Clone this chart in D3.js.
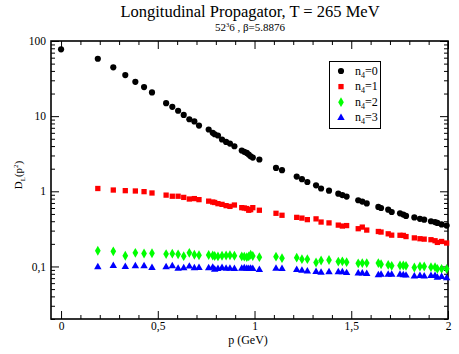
<!DOCTYPE html>
<html>
<head>
<meta charset="utf-8">
<script src="https://cdn.jsdelivr.net/npm/d3@7"></script>
<style>
  body { margin: 0; background: #fff; }
  svg text { font-family: "Liberation Serif", "Times New Roman", "DejaVu Serif", serif; }
</style>
</head>
<body>
<svg id="chart" width="459" height="354"></svg>
<script>
// momenta (GeV), shared by all series
const p = [0, 0.19, 0.27, 0.332, 0.384, 0.429, 0.47, 0.543, 0.575, 0.605,
  0.634, 0.663, 0.689, 0.713, 0.763, 0.784, 0.794, 0.811, 0.832, 0.853,
  0.873, 0.896, 0.934, 0.947, 0.96, 0.97, 0.98, 0.991, 1.025, 1.111,
  1.142, 1.218, 1.245, 1.273, 1.318, 1.344, 1.385, 1.433, 1.454, 1.476,
  1.536, 1.557, 1.58, 1.64, 1.654, 1.691, 1.709, 1.752, 1.769, 1.783,
  1.826, 1.855, 1.877, 1.912, 1.933, 1.945, 1.967, 1.993];

const n0 = [77.5, 58, 44.6, 35.2, 28.6, 24.4, 20.7, 14.9, 13.3, 11.8,
  10.4, 9.1, 8.5, 7.5, 6.65, 6.0, 5.75, 5.53, 4.89, 4.54,
  4.32, 3.98, 3.49, 3.35, 3.24, 3.08, 2.93, 2.81, 2.65, 2.05,
  1.91, 1.57, 1.45, 1.33, 1.20, 1.09, 1.02, 0.93, 0.89, 0.85,
  0.76, 0.73, 0.69, 0.62, 0.60, 0.57, 0.53, 0.51, 0.49, 0.47,
  0.45, 0.43, 0.42, 0.40, 0.39, 0.38, 0.363, 0.35];

const n1 = [null, 1.09, 1.04, 1.02, 1.01, 0.99, 0.95, 0.89, 0.86, 0.86,
  0.83, 0.79, 0.80, 0.775, 0.74, 0.72, 0.71, 0.685, 0.67, 0.645,
  0.63, 0.657, 0.606, 0.60, 0.59, 0.56, 0.57, 0.606, 0.56, 0.51,
  0.48, 0.45, 0.44, 0.42, 0.43, 0.39, 0.38, 0.355, 0.345, 0.35,
  0.318, 0.334, 0.305, 0.292, 0.287, 0.272, 0.261, 0.26, 0.259, 0.25,
  0.24, 0.234, 0.231, 0.227, 0.22, 0.209, 0.215, 0.205];

const n2 = [null, 0.162, 0.159, 0.139, 0.152, 0.149, 0.150, 0.146, 0.148, 0.145,
  0.137, 0.152, 0.143, 0.141, 0.142, 0.14, 0.138, 0.136, 0.139, 0.14,
  0.141, 0.139, 0.136, 0.135, 0.133, 0.136, 0.143, 0.138, 0.133, 0.135,
  0.129, 0.131, 0.125, 0.125, 0.113, 0.12, 0.122, 0.116, 0.117, 0.114,
  0.11, 0.111, 0.111, 0.111, 0.107, 0.105, 0.102, 0.103, 0.103, 0.102,
  0.097, 0.1, 0.1, 0.098, 0.098, 0.093, 0.093, 0.093];

const n3 = [null, 0.098, 0.102, 0.099, 0.101, 0.101, 0.096, 0.098, 0.101, 0.094,
  0.095, 0.1, 0.095, 0.096, 0.095, 0.097, 0.091, 0.093, 0.096, 0.094,
  0.094, 0.093, 0.094, 0.095, 0.094, 0.093, 0.094, 0.093, 0.09, 0.094,
  0.093, 0.09, 0.088, 0.086, 0.085, 0.083, 0.084, 0.084, 0.084, 0.082,
  0.081, 0.081, 0.080, 0.077, 0.078, 0.078, 0.078, 0.078, 0.077, 0.076,
  0.074, 0.075, 0.074, 0.075, 0.075, 0.071, 0.073, 0.070];

const seriesNames = ["0", "1", "2", "3"];
const xMajor = [0, 0.5, 1, 1.5, 2];
const yMajor = [0.1, 1, 10, 100];

const colors = ["#000000", "#ff0000", "#00ff00", "#0000ff"];
const symbols = [d3.symbolCircle, d3.symbolSquare, d3.symbolDiamond, d3.symbolTriangle];
const symSizes = [30, 28, 28, 24];
const serif = "'Liberation Serif', 'Times New Roman', 'DejaVu Serif', serif";

const svg = d3.select("#chart");
const mLeft = 51, mRight = 448, mTop = 41, mBottom = 319;

const x = d3.scaleLinear().domain([-0.052, 2]).range([mLeft, mRight]);
const y = d3.scaleLog().domain([0.02, 100]).range([mBottom, mTop]);

const comma = function (v) { return String(v).replace(".", ","); };

// minor ticks
const xMinor = d3.range(0, 21).map(function (i) { return i / 10; })
  .filter(function (v) { return xMajor.indexOf(v) < 0; });
const yMinor = [];
[0.01, 0.1, 1, 10].forEach(function (dec) {
  for (let k = 2; k <= 9; k++) {
    const v = dec * k;
    if (v >= 0.02 && v <= 100) yMinor.push(v);
  }
});

const axisG = svg.append("g");

// bottom and top axes
axisG.append("g")
  .attr("transform", "translate(0," + mBottom + ")")
  .call(d3.axisBottom(x).tickValues(xMajor).tickSize(-8).tickFormat(comma).tickPadding(3));
axisG.append("g")
  .attr("transform", "translate(0," + mBottom + ")")
  .call(d3.axisBottom(x).tickValues(xMinor).tickSize(-4).tickFormat(""));
axisG.append("g")
  .attr("transform", "translate(0," + mTop + ")")
  .call(d3.axisTop(x).tickValues(xMajor).tickSize(-8).tickFormat(""));
axisG.append("g")
  .attr("transform", "translate(0," + mTop + ")")
  .call(d3.axisTop(x).tickValues(xMinor).tickSize(-4).tickFormat(""));

// left and right axes
axisG.append("g")
  .attr("transform", "translate(" + mLeft + ",0)")
  .call(d3.axisLeft(y).tickValues(yMajor).tickSize(-8).tickFormat(comma).tickPadding(5));
axisG.append("g")
  .attr("transform", "translate(" + mLeft + ",0)")
  .call(d3.axisLeft(y).tickValues(yMinor).tickSize(-4).tickFormat(""));
axisG.append("g")
  .attr("transform", "translate(" + mRight + ",0)")
  .call(d3.axisRight(y).tickValues(yMajor).tickSize(-8).tickFormat(""));
axisG.append("g")
  .attr("transform", "translate(" + mRight + ",0)")
  .call(d3.axisRight(y).tickValues(yMinor).tickSize(-4).tickFormat(""));

axisG.selectAll("g").attr("font-family", serif);
axisG.selectAll(".domain").remove();
axisG.selectAll(".tick line").attr("stroke", "#000").attr("stroke-width", 1);
axisG.selectAll(".tick text")
  .style("font-family", serif)
  .style("font-size", "11.5px")
  .attr("fill", "#000");

svg.append("rect")
  .attr("x", mLeft).attr("y", mTop)
  .attr("width", mRight - mLeft).attr("height", mBottom - mTop)
  .attr("fill", "none").attr("stroke", "#000").attr("stroke-width", 1.6);

// data points
const allSeries = [n0, n1, n2, n3];
allSeries.forEach(function (vals, i) {
  const pts = vals.map(function (v, j) { return { p: p[j], v: v }; })
    .filter(function (d) { return d.v !== null; });
  svg.append("g")
    .selectAll("path")
    .data(pts)
    .enter()
    .append("path")
    .attr("transform", function (d) { return "translate(" + x(d.p) + "," + y(d.v) + ")"; })
    .attr("d", d3.symbol().type(symbols[i]).size(symSizes[i]))
    .attr("fill", colors[i]);
});

// legend
const leg = svg.append("g");
leg.append("rect")
  .attr("x", 329.5).attr("y", 61.5).attr("width", 51).attr("height", 67)
  .attr("fill", "#fff").attr("stroke", "#000").attr("stroke-width", 1);
seriesNames.forEach(function (name, i) {
  const yy = 71 + i * 15.6;
  leg.append("path")
    .attr("transform", "translate(341," + yy + ")")
    .attr("d", d3.symbol().type(symbols[i]).size(symSizes[i]))
    .attr("fill", colors[i]);
  const t = leg.append("text")
    .attr("x", 355).attr("y", yy + 3.5)
    .style("font-family", serif)
    .style("font-size", "12px");
  t.append("tspan").text("n");
  t.append("tspan").attr("dy", 3).style("font-size", "8px").text("4");
  t.append("tspan").attr("dy", -3).text("=" + name);
});

// titles
svg.append("text")
  .attr("x", 250).attr("y", 17)
  .attr("text-anchor", "middle")
  .style("font-family", serif)
  .style("font-size", "16.5px")
  .text("Longitudinal Propagator, T = 265 MeV");

const sub = svg.append("text")
  .attr("x", 250).attr("y", 31)
  .attr("text-anchor", "middle")
  .style("font-family", serif)
  .style("font-size", "11px");
sub.append("tspan").text("52");
sub.append("tspan").attr("dy", -4).style("font-size", "6.5px").text("3");
sub.append("tspan").attr("dy", 4).text("6 , β=5.8876");

svg.append("text")
  .attr("x", 248).attr("y", 344)
  .attr("text-anchor", "middle")
  .style("font-family", serif)
  .style("font-size", "12px")
  .text("p (GeV)");

const yl = svg.append("text")
  .attr("transform", "translate(22,175) rotate(-90)")
  .attr("text-anchor", "middle")
  .style("font-family", serif)
  .style("font-size", "11px");
yl.append("tspan").text("D");
yl.append("tspan").attr("dy", 3).style("font-size", "7px").text("L");
yl.append("tspan").attr("dy", -3).text("(p");
yl.append("tspan").attr("dy", -4).style("font-size", "7px").text("2");
yl.append("tspan").attr("dy", 4).text(")");
</script>
</body>
</html>
